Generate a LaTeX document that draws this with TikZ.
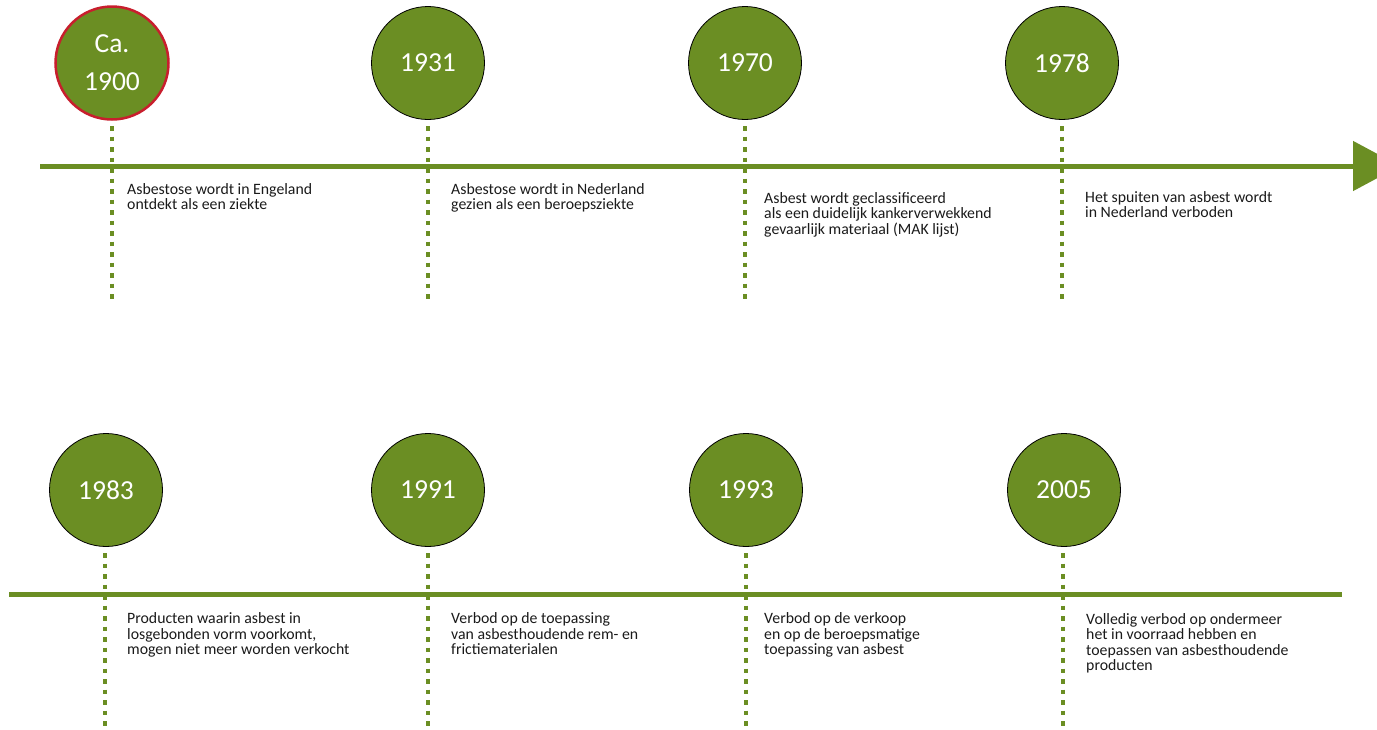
\documentclass[tikz,border=0pt]{standalone}
\usepackage{fontspec}
\setmainfont{Carlito}
\usetikzlibrary{arrows.meta}
\definecolor{tlgreen}{RGB}{107,142,35}
\definecolor{tlred}{RGB}{200,30,45}
\definecolor{tltext}{RGB}{26,26,26}
\tikzset{
  yearc/.style={circle, fill=tlgreen, draw=black, line width=0.8pt, minimum size=113pt,
    inner sep=0pt, text=white, font=\fontsize{27.5}{38}\selectfont, align=center},
  firstc/.style={yearc, draw=tlred, line width=2.5pt},
  desc/.style={anchor=base west, inner sep=0pt, font=\fontsize{15.8}{15.3}\selectfont, text=tltext},
  axisline/.style={draw=tlgreen, line width=5pt},
  dotline/.style={draw=tlgreen, line width=4.8pt, dash pattern=on 4.5pt off 6pt},
}
\newcommand{\lines}[1]{\begin{tabular}[t]{@{}l@{}}#1\end{tabular}}
\begin{document}
\begin{tikzpicture}[x=1pt,y=-1pt]
\useasboundingbox (0,0) rectangle (1377,729);
% axes
\coordinate (a1s) at (40,166);
\coordinate (a1e) at (1400,166);
\coordinate (a2s) at (9,594);
\coordinate (a2e) at (1342,594);
\draw[axisline, -{Triangle[length=47pt,width=49pt]}] (a1s) -- (a1e);
\draw[axisline] (a2s) -- (a2e);
% circles top
\node[firstc] (c1) at (112,63) {Ca.\\1900};
\node[yearc] (c2) at (428,63) {1931};
\node[yearc] (c3) at (745,63) {1970};
\node[yearc] (c4) at (1062,63) {1978};
% circles bottom
\node[yearc] (c5) at (106,490) {1983};
\node[yearc] (c6) at (428,490) {1991};
\node[yearc] (c7) at (746,490) {1993};
\node[yearc] (c8) at (1064,490) {2005};
% dotted ends
\coordinate (e1) at (112,300);
\coordinate (e2) at (428,300);
\coordinate (e3) at (745,300);
\coordinate (e4) at (1062,300);
\coordinate (e5) at (105,732);
\coordinate (e6) at (428,732);
\coordinate (e7) at (746,732);
\coordinate (e8) at (1063,732);
\draw[dotline] (112,126) -- (e1);
\draw[dotline] (428,126) -- (e2);
\draw[dotline] (745,126) -- (e3);
\draw[dotline] (1062,126) -- (e4);
\draw[dotline] (105,553) -- (e5);
\draw[dotline] (428,553) -- (e6);
\draw[dotline] (746,553) -- (e7);
\draw[dotline] (1063,553) -- (e8);
% descriptions
\node[desc] (t1) at (127,194) {\lines{Asbestose wordt in Engeland\\ontdekt als een ziekte}};
\node[desc] (t2) at (451,194) {\lines{Asbestose wordt in Nederland\\gezien als een beroepsziekte}};
\node[desc] (t3) at (764,203) {\lines{Asbest wordt geclassificeerd\\als een duidelijk kankerverwekkend\\gevaarlijk materiaal (MAK lijst)}};
\node[desc] (t4) at (1085,202) {\lines{Het spuiten van asbest wordt\\in Nederland verboden}};
\node[desc] (t5) at (127,623.5) {\lines{Producten waarin asbest in\\losgebonden vorm voorkomt,\\mogen niet meer worden verkocht}};
\node[desc] (t6) at (451,623.5) {\lines{Verbod op de toepassing\\van asbesthoudende rem- en\\frictiematerialen}};
\node[desc] (t7) at (764,623.5) {\lines{Verbod op de verkoop\\en op de beroepsmatige\\toepassing van asbest}};
\node[desc] (t8) at (1086,624) {\lines{Volledig verbod op ondermeer\\het in voorraad hebben en\\toepassen van asbesthoudende\\producten}};
\end{tikzpicture}
\end{document}
